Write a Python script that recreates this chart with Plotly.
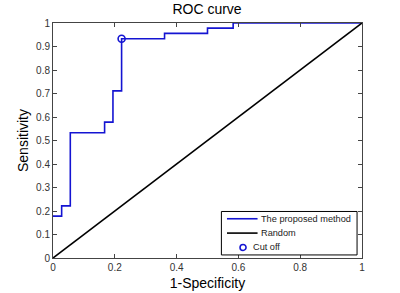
import plotly.graph_objects as go

# ROC curve data (step curve)
fpr = [0.0, 0.028, 0.028, 0.056, 0.056, 0.167, 0.167, 0.194, 0.194, 0.222, 0.222, 0.361, 0.361, 0.5, 0.5, 0.583, 0.583, 1.0]
tpr = [0.178, 0.178, 0.222, 0.222, 0.533, 0.533, 0.578, 0.578, 0.711, 0.711, 0.933, 0.933, 0.956, 0.956, 0.978, 0.978, 1.0, 1.0]
random_x = [0, 1]
random_y = [0, 1]
cut_x = [0.222]
cut_y = [0.933]
series_names = ["The proposed method", "Random", "Cut off"]
x_ticks = [0, 0.2, 0.4, 0.6, 0.8, 1]
x_ticklabels = ["0", "0.2", "0.4", "0.6", "0.8", "1"]
y_ticks = [0, 0.1, 0.2, 0.3, 0.4, 0.5, 0.6, 0.7, 0.8, 0.9, 1]
y_ticklabels = ["0", "0.1", "0.2", "0.3", "0.4", "0.5", "0.6", "0.7", "0.8", "0.9", "1"]

FONT = "Liberation Sans, Arial, sans-serif"
BLUE = "#1414d2"

fig = go.Figure()
fig.add_trace(go.Scatter(x=fpr, y=tpr, mode="lines", name=series_names[0],
                         line=dict(color=BLUE, width=1.6), showlegend=False))
fig.add_trace(go.Scatter(x=random_x, y=random_y, mode="lines", name=series_names[1],
                         line=dict(color="black", width=1.6), showlegend=False))
fig.add_trace(go.Scatter(x=cut_x, y=cut_y, mode="markers", name=series_names[2],
                         marker=dict(symbol="circle-open", size=7, color=BLUE,
                                     line=dict(width=1.6, color=BLUE)), showlegend=False))

axis_common = dict(showgrid=False, zeroline=False, showline=True, linecolor="#444",
                   linewidth=1, mirror="ticks", ticks="inside", ticklen=4,
                   tickcolor="#444", automargin=False,
                   tickfont=dict(family=FONT, size=10, color="#333"))

# compact MATLAB-style legend box (paper coordinates)
lx0, lx1, ly0, ly1 = 0.545, 0.984, 0.013, 0.198
line_x0, line_x1 = 0.563, 0.662
row_y = [0.167, 0.106, 0.045]
text_x = [0.667, 0.667, 0.641]
shapes = [
    dict(type="rect", xref="paper", yref="paper", x0=lx0, x1=lx1, y0=ly0, y1=ly1,
         line=dict(color="black", width=1), fillcolor="white", layer="above"),
    dict(type="line", xref="paper", yref="paper", x0=line_x0, x1=line_x1, y0=row_y[0], y1=row_y[0],
         line=dict(color=BLUE, width=1.6), layer="above"),
    dict(type="line", xref="paper", yref="paper", x0=line_x0, x1=line_x1, y0=row_y[1], y1=row_y[1],
         line=dict(color="black", width=1.6), layer="above"),
    dict(type="circle", xref="paper", yref="paper", xsizemode="pixel", ysizemode="pixel",
         xanchor=0.615, yanchor=row_y[2], x0=-3, x1=3, y0=-3, y1=3,
         line=dict(color=BLUE, width=1.6), layer="above"),
]
annotations = [
    dict(text=series_names[i], xref="paper", yref="paper", x=text_x[i], y=row_y[i],
         xanchor="left", yanchor="middle", showarrow=False,
         font=dict(family=FONT, size=9.2, color="#222"))
    for i in range(3)
]

fig.update_layout(
    width=400, height=293,
    margin=dict(l=52.5, r=38.3, t=22.7, b=34.7, autoexpand=False),
    paper_bgcolor="white", plot_bgcolor="white",
    title=dict(text="ROC curve", x=0.5175, xanchor="center", y=0.968, yanchor="middle",
               font=dict(family=FONT, size=14, color="black")),
    xaxis=dict(range=[0, 1], tickvals=x_ticks, ticktext=x_ticklabels,
               title=dict(text="1-Specificity", font=dict(family=FONT, size=14, color="black"), standoff=6),
               **axis_common),
    yaxis=dict(range=[0, 1], tickvals=y_ticks, ticktext=y_ticklabels,
               title=dict(text="Sensitivity", font=dict(family=FONT, size=14, color="black"), standoff=4),
               **axis_common),
    shapes=shapes,
    annotations=annotations,
    showlegend=False,
)

fig.write_html("out.html", config={"displayModeBar": False},
               post_script="document.body.style.margin='0';")
